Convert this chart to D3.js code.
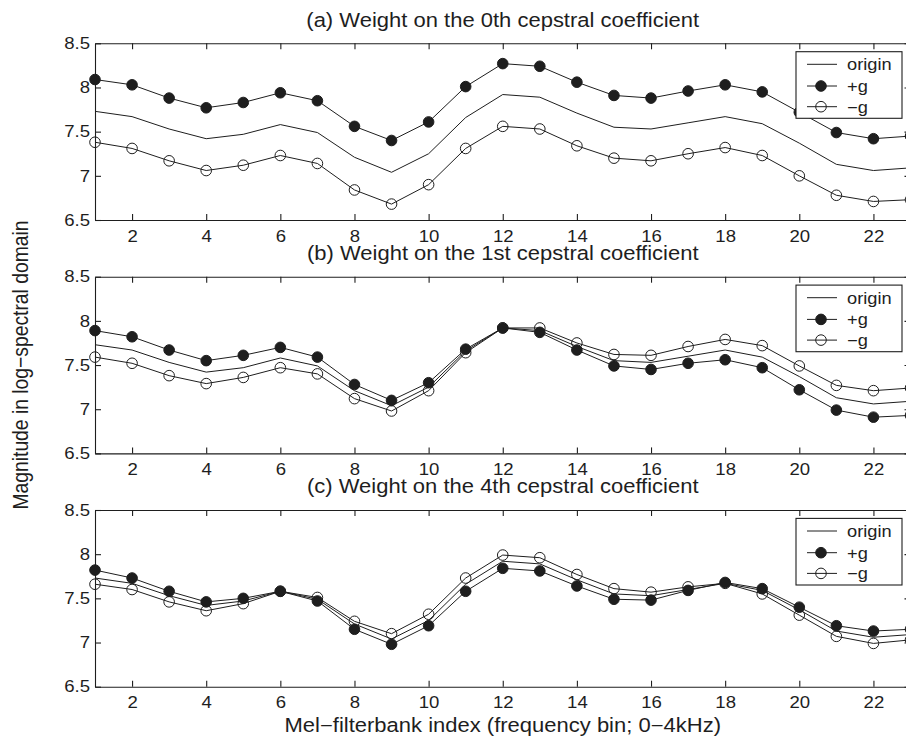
<!DOCTYPE html>
<html>
<head>
<meta charset="utf-8">
<script src="https://cdn.jsdelivr.net/npm/d3@7"></script>
<style>
  body { margin: 0; background: #ffffff; }
  svg { display: block; }
  text { font-family: "Liberation Sans", Arial, Helvetica, sans-serif; fill: #1e1e1e; }
</style>
</head>
<body>
<div id="chart"></div>
<script>
// mel-filterbank bins on the x axis
var bins = [1, 2, 3, 4, 5, 6, 7, 8, 9, 10, 11, 12, 13, 14, 15, 16, 17, 18, 19, 20, 21, 22, 23];

// original log-spectrum, same in every panel
var origin = [7.73, 7.67, 7.53, 7.42, 7.47, 7.58, 7.49, 7.21, 7.04, 7.25, 7.66, 7.92, 7.89,
              7.71, 7.55, 7.53, 7.60, 7.67, 7.59, 7.37, 7.13, 7.06, 7.09];

// (a) 0th cepstral coefficient
var plus_g0 = [8.09, 8.03, 7.88, 7.77, 7.83, 7.94, 7.85, 7.56, 7.40, 7.61, 8.01, 8.27, 8.24,
               8.06, 7.91, 7.88, 7.96, 8.03, 7.95, 7.72, 7.49, 7.42, 7.45];
var minus_g0 = [7.38, 7.31, 7.17, 7.06, 7.12, 7.23, 7.14, 6.84, 6.68, 6.90, 7.31, 7.56, 7.53,
                7.34, 7.20, 7.17, 7.25, 7.32, 7.23, 7.00, 6.78, 6.71, 6.73];

// (b) 1st cepstral coefficient
var plus_g1 = [7.89, 7.82, 7.67, 7.55, 7.61, 7.70, 7.59, 7.28, 7.10, 7.30, 7.68, 7.92, 7.87,
               7.67, 7.49, 7.45, 7.52, 7.56, 7.47, 7.22, 6.99, 6.91, 6.93];
var minus_g1 = [7.59, 7.52, 7.38, 7.29, 7.36, 7.47, 7.40, 7.12, 6.98, 7.21, 7.64, 7.92, 7.92,
                7.75, 7.62, 7.61, 7.71, 7.79, 7.72, 7.49, 7.27, 7.21, 7.24];

// (c) 4th cepstral coefficient
var plus_g4 = [7.82, 7.73, 7.58, 7.46, 7.50, 7.58, 7.47, 7.15, 6.98, 7.19, 7.58, 7.84, 7.81,
               7.64, 7.49, 7.48, 7.59, 7.68, 7.61, 7.40, 7.19, 7.13, 7.15];
var minus_g4 = [7.66, 7.60, 7.46, 7.36, 7.44, 7.58, 7.51, 7.24, 7.10, 7.32, 7.73, 7.99, 7.96,
                7.77, 7.61, 7.57, 7.63, 7.67, 7.55, 7.31, 7.07, 6.99, 7.03];

var panel_titles = ['(a) Weight on the 0th cepstral coefficient',
                    '(b) Weight on the 1st cepstral coefficient',
                    '(c) Weight on the 4th cepstral coefficient'];
var x_ticks = [2, 4, 6, 8, 10, 12, 14, 16, 18, 20, 22];
var y_ticks = [6.5, 7, 7.5, 8, 8.5];
var legend_labels = ['origin', '+g', '\u2212g'];

var settings = {
  width: 906,
  height: 749,

  left: 95,
  right: 910.5,
  panel_tops: [43.3, 276.7, 510],
  panel_height: 176.7,

  tick_size: 6,
  dot_r: 5.3,
  line_color: '#1e1e1e',

  // the source figure is stretched sideways, so text gets a small x scale
  stretch: 1.14,
  tick_font: 16.3,
  title_font: 19.3,
  label_font: 19.3,
  legend_font: 16,

  legend_x: 796,
  legend_w: 106,
  legend_y: 8.4,
  legend_h: 66.6,
  legend_rows: [21, 42.7, 63.4]
};

var panels = [
  { title: panel_titles[0], plus: plus_g0, minus: minus_g0 },
  { title: panel_titles[1], plus: plus_g1, minus: minus_g1 },
  { title: panel_titles[2], plus: plus_g4, minus: minus_g4 }
];

var svg = d3.select('#chart').append('svg')
  .attr('width', settings.width)
  .attr('height', settings.height);

var x = d3.scaleLinear()
  .domain([1, 23])
  .range([settings.left, settings.right]);

var mid_x = (settings.left + settings.right) / 2;

panels.forEach(function(p, i) {
  draw_panel(p, settings.panel_tops[i]);
});

// axis labels shared by the three panels
add_text(svg, mid_x, 731.7, 'middle', settings.label_font,
  'Mel\u2212filterbank index (frequency bin; 0\u22124kHz)');

svg.append('text')
  .attr('transform', 'translate(28,365) rotate(-90) scale(1,' + settings.stretch + ')')
  .attr('text-anchor', 'middle')
  .style('font-size', settings.label_font + 'px')
  .text('Magnitude in log\u2212spectral domain');

/////////////////////////////////////////////////////////////////////////////////////////////////////

function add_text(parent, tx, ty, anchor, size, str) {
  return parent.append('text')
    .attr('transform', 'translate(' + tx + ',' + ty + ') scale(' + settings.stretch + ',1)')
    .attr('text-anchor', anchor)
    .style('font-size', size + 'px')
    .text(str);
}

function draw_panel(p, top) {
  var bottom = top + settings.panel_height;

  var y = d3.scaleLinear()
    .domain([6.5, 8.5])
    .range([bottom, top]);

  var g = svg.append('g');

  add_text(g, mid_x, top - 16.7, 'middle', settings.title_font, p.title);

  // box with inward ticks on all four sides
  var axes = [
    { axis: d3.axisBottom(x).tickValues(x_ticks).tickFormat(d3.format('d')).tickPadding(10), pos: 'translate(0,' + bottom + ')' },
    { axis: d3.axisTop(x).tickValues(x_ticks).tickFormat(''), pos: 'translate(0,' + top + ')' },
    { axis: d3.axisLeft(y).tickValues(y_ticks).tickFormat(function(d) { return String(d); }).tickPadding(4.4), pos: 'translate(' + settings.left + ',0)' },
    { axis: d3.axisRight(y).tickValues(y_ticks).tickFormat(''), pos: 'translate(' + settings.right + ',0)' }
  ];

  axes.forEach(function(a) {
    var ax = g.append('g')
      .attr('transform', a.pos)
      .call(a.axis.tickSizeInner(-settings.tick_size).tickSizeOuter(0));
    ax.selectAll('path, line')
      .attr('stroke', settings.line_color)
      .attr('stroke-width', 1.1);
    ax.selectAll('text')
      .attr('font-family', null)
      .attr('transform', 'scale(' + settings.stretch + ',1)')
      .style('font-size', settings.tick_font + 'px')
      .attr('fill', '#1e1e1e');
  });

  var line = d3.line()
    .x(function(d, i) { return x(bins[i]); })
    .y(function(d) { return y(d); });

  var series = [
    { values: p.plus, fill: settings.line_color, dots: true },
    { values: p.minus, fill: 'none', dots: true },
    { values: origin, fill: null, dots: false }
  ];

  series.forEach(function(s) {
    g.append('path')
      .datum(s.values)
      .attr('d', line)
      .attr('fill', 'none')
      .attr('stroke', settings.line_color)
      .attr('stroke-width', 1);

    if (!s.dots) return;

    g.selectAll(null)
      .data(s.values)
      .enter().append('circle')
      .attr('cx', function(d, i) { return x(bins[i]); })
      .attr('cy', function(d) { return y(d); })
      .attr('r', settings.dot_r)
      .attr('fill', s.fill)
      .attr('stroke', settings.line_color)
      .attr('stroke-width', 1);
  });

  draw_legend(g, top);
}

function draw_legend(g, top) {
  var lg = g.append('g')
    .attr('transform', 'translate(' + settings.legend_x + ',' + (top + settings.legend_y) + ')');

  lg.append('rect')
    .attr('x', 0)
    .attr('y', 0)
    .attr('width', settings.legend_w)
    .attr('height', settings.legend_h)
    .attr('fill', '#ffffff')
    .attr('stroke', settings.line_color)
    .attr('stroke-width', 1.1);

  var fills = [null, settings.line_color, 'none'];

  legend_labels.forEach(function(label, i) {
    var ry = settings.legend_rows[i] - settings.legend_y;

    lg.append('line')
      .attr('x1', 11)
      .attr('x2', 41)
      .attr('y1', ry)
      .attr('y2', ry)
      .attr('stroke', settings.line_color)
      .attr('stroke-width', 1);

    if (fills[i]) {
      lg.append('circle')
        .attr('cx', 25)
        .attr('cy', ry)
        .attr('r', settings.dot_r)
        .attr('fill', fills[i])
        .attr('stroke', settings.line_color)
        .attr('stroke-width', 1);
    }

    add_text(lg, 51, ry + 6, 'start', settings.legend_font, label);
  });
}
</script>
</body>
</html>
